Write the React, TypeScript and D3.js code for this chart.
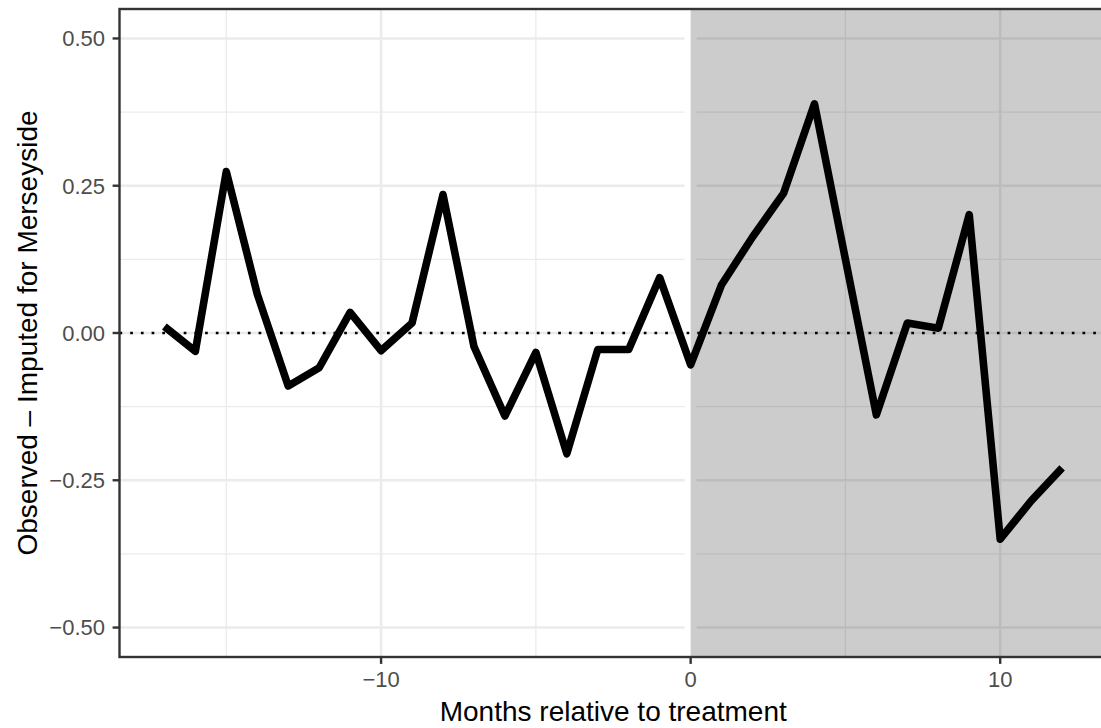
import React from "react";
import * as d3 from "d3";

// Monthly gap between observed and imputed values, months relative to treatment
const months: number[] = [
  -17, -16, -15, -14, -13, -12, -11, -10, -9, -8, -7, -6, -5, -4, -3, -2, -1,
  0, 1, 2, 3, 4, 5, 6, 7, 8, 9, 10, 11, 12,
];
const gap: number[] = [
  0.011, -0.031, 0.274, 0.066, -0.09, -0.059, 0.035, -0.03, 0.017, 0.235,
  -0.023, -0.141, -0.033, -0.205, -0.028, -0.028, 0.094, -0.054, 0.082, 0.163,
  0.237, 0.389, 0.125, -0.139, 0.017, 0.008, 0.201, -0.35, -0.285, -0.229,
];

const yMajor: number[] = [-0.5, -0.25, 0, 0.25, 0.5];
const yMinor: number[] = [-0.375, -0.125, 0.125, 0.375];
const xMajor: number[] = [-20, -10, 0, 10];
const xMinor: number[] = [-15, -5, 5, 15];
const yTickLabels: string[] = ["\u22120.50", "\u22120.25", "0.00", "0.25", "0.50"];
const xTickLabels: string[] = ["\u221210", "0", "10"];
const xTickValues: number[] = [-10, 0, 10];

const W = 1101;
const H = 728;
const panel = { left: 119.5, right: 1107, top: 9, bottom: 657 };

export default function App() {
  const x = d3.scaleLinear().domain([-18.45, 13.45]).range([panel.left, panel.right]);
  const y = d3.scaleLinear().domain([-0.55, 0.55]).range([panel.bottom, panel.top]);

  const pts: [number, number][] = months.map((m, i) => [m, gap[i]]);
  const line = d3
    .line<[number, number]>()
    .x((d) => x(d[0]))
    .y((d) => y(d[1]));

  const font = "'Liberation Sans', Arial, Helvetica, sans-serif";
  const pw = panel.right - panel.left;
  const ph = panel.bottom - panel.top;

  return (
    <svg
      width={W}
      height={H}
      style={{ position: "absolute", left: 0, top: 0, background: "#fff" }}
      fontFamily={font}
    >
      <defs>
        <clipPath id="panel-clip">
          <rect x={panel.left} y={panel.top} width={pw} height={ph} />
        </clipPath>
      </defs>
      <g clipPath="url(#panel-clip)">
        <rect x={panel.left} y={panel.top} width={pw} height={ph} fill="#fff" />
        {/* minor grid */}
        {yMinor.map((v) => (
          <line key={"ym" + v} x1={panel.left} x2={panel.right} y1={y(v)} y2={y(v)} stroke="#EBEBEB" strokeWidth={1.3} />
        ))}
        {xMinor.map((v) => (
          <line key={"xm" + v} y1={panel.top} y2={panel.bottom} x1={x(v)} x2={x(v)} stroke="#EBEBEB" strokeWidth={1.3} />
        ))}
        {/* major grid */}
        {yMajor.map((v) => (
          <line key={"yM" + v} x1={panel.left} x2={panel.right} y1={y(v)} y2={y(v)} stroke="#EBEBEB" strokeWidth={2.6} />
        ))}
        {xMajor.map((v) => (
          <line key={"xM" + v} y1={panel.top} y2={panel.bottom} x1={x(v)} x2={x(v)} stroke="#EBEBEB" strokeWidth={2.6} />
        ))}
        {/* treatment onset marker */}
        <line x1={x(0)} x2={x(0)} y1={panel.top} y2={panel.bottom} stroke="#fff" strokeWidth={12} />
        {/* post-treatment shading */}
        <rect
          x={x(0)}
          y={panel.top}
          width={panel.right - x(0)}
          height={ph}
          fill="#000"
          fillOpacity={0.2}
        />
        {/* zero reference */}
        <line
          x1={panel.left}
          x2={panel.right}
          y1={y(0)}
          y2={y(0)}
          stroke="#000"
          strokeWidth={2.7}
          strokeDasharray="2.7 8"
        />
        <path
          d={line(pts) || ""}
          fill="none"
          stroke="#000"
          strokeWidth={7.6}
          strokeLinejoin="round"
          strokeLinecap="butt"
        />
      </g>
      {/* panel border */}
      <rect x={panel.left} y={panel.top} width={pw} height={ph} fill="none" stroke="#333333" strokeWidth={2.4} />

      {/* y axis */}
      {yMajor.map((v, i) => (
        <g key={"yt" + v}>
          <line x1={panel.left - 6.9} x2={panel.left} y1={y(v)} y2={y(v)} stroke="#333333" strokeWidth={2.4} />
          <text x={105} y={y(v)} dy="0.36em" textAnchor="end" fontSize={22} fill="#4D4D4D">
            {yTickLabels[i]}
          </text>
        </g>
      ))}
      {/* x axis */}
      {xTickValues.map((v, i) => (
        <g key={"xt" + v}>
          <line x1={x(v)} x2={x(v)} y1={panel.bottom} y2={panel.bottom + 6.9} stroke="#333333" strokeWidth={2.4} />
          <text x={x(v)} y={687} textAnchor="middle" fontSize={22} fill="#4D4D4D">
            {xTickLabels[i]}
          </text>
        </g>
      ))}

      <text x={(panel.left + panel.right) / 2} y={720.5} textAnchor="middle" fontSize={28} fill="#000">
        Months relative to treatment
      </text>
      <text
        transform={`translate(37, ${(panel.top + panel.bottom) / 2}) rotate(-90)`}
        textAnchor="middle"
        fontSize={28}
        fill="#000"
      >
        Observed – Imputed for Merseyside
      </text>
    </svg>
  );
}
